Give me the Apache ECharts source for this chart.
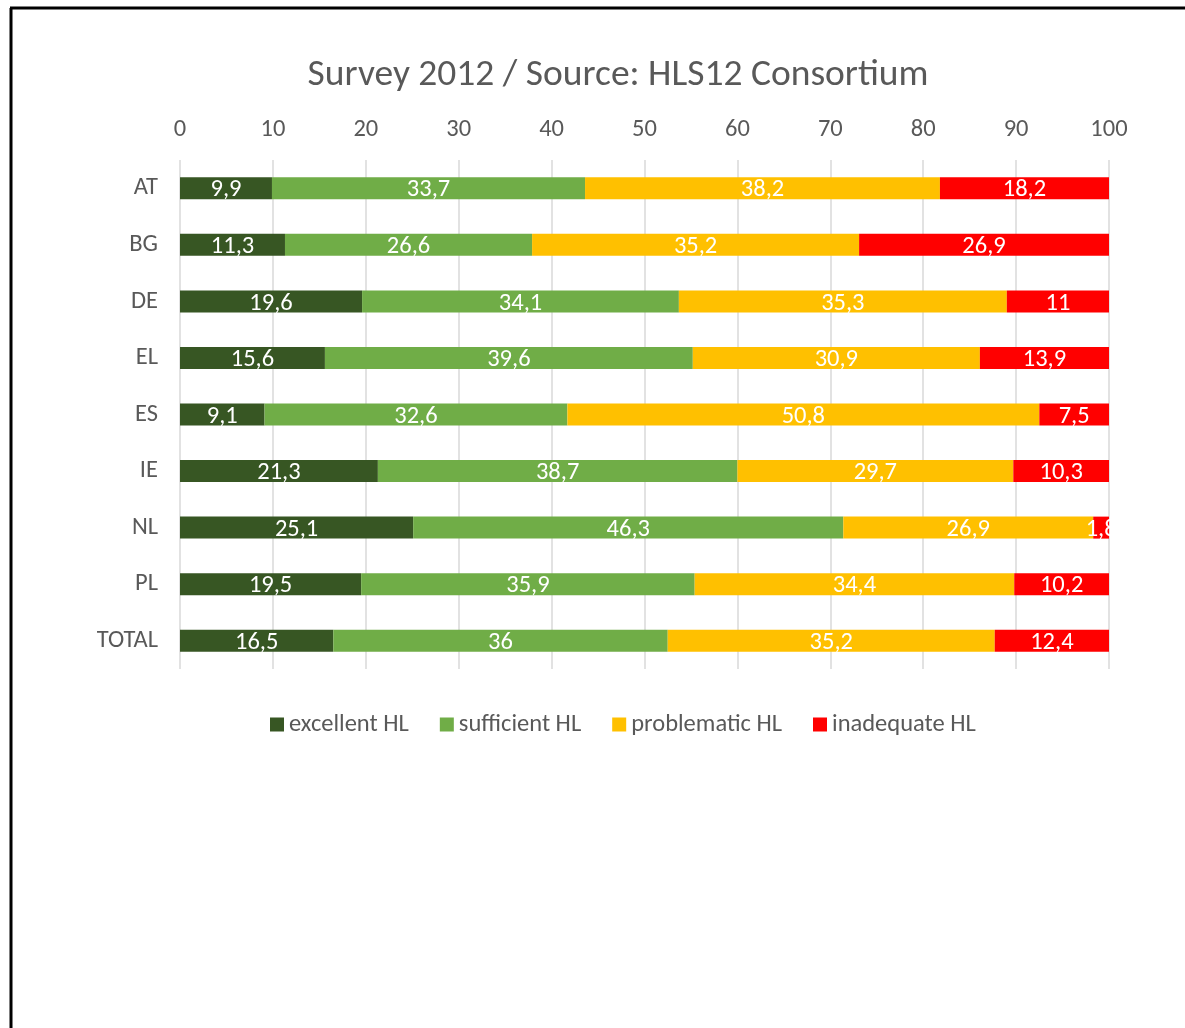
<!DOCTYPE html>
<html>
<head>
<meta charset="utf-8">
<script src="https://cdn.jsdelivr.net/npm/echarts@6/dist/echarts.min.js"></script>
<style>
html,body{margin:0;padding:0;background:#fff;}
#c{width:1185px;height:1028px;}
</style>
</head>
<body>
<div id="c"></div>
<script>
const categories = ['AT','BG','DE','EL','ES','IE','NL','PL','TOTAL'];
const seriesNames = ['excellent HL','sufficient HL','problematic HL','inadequate HL'];
const excellent   = [9.9, 11.3, 19.6, 15.6, 9.1, 21.3, 25.1, 19.5, 16.5];
const sufficient  = [33.7, 26.6, 34.1, 39.6, 32.6, 38.7, 46.3, 35.9, 36];
const problematic = [38.2, 35.2, 35.3, 30.9, 50.8, 29.7, 26.9, 34.4, 35.2];
const inadequate  = [18.2, 26.9, 11, 13.9, 7.5, 10.3, 1.8, 10.2, 12.4];
const xTicks = [0,10,20,30,40,50,60,70,80,90,100];

const colors = ['#375623','#70AD47','#FFC000','#FF0000'];
const values = [excellent, sufficient, problematic, inadequate];
const FONT = 'Carlito, Lato, "Open Sans", sans-serif';
const FS = 24.5;

const chart = echarts.init(document.getElementById('c'));
chart.setOption({
  animation: false,
  textStyle: { fontFamily: FONT },
  title: {
    text: 'Survey 2012 / Source: HLS12 Consortium',
    left: 613, top: 52, textAlign: 'center',
    textStyle: { color: '#595959', fontSize: 37.5, fontWeight: 'normal', fontFamily: FONT }
  },
  legend: {
    data: seriesNames,
    left: 265, top: 707, width: 900,
    itemWidth: 14, itemHeight: 14, itemGap: 31,
    icon: 'rect',
    textStyle: { color: '#595959', fontSize: FS, fontFamily: FONT, padding: [3,0,0,0] }
  },
  grid: { left: 180, right: 76, top: 160, bottom: 359, containLabel: false },
  xAxis: {
    type: 'value', position: 'top', min: 0, max: 100, interval: 10,
    axisLine: { show: false }, axisTick: { show: false },
    splitLine: { show: true, lineStyle: { color: '#d9d9d9', width: 1.5 } },
    axisLabel: { color: '#595959', fontSize: FS, fontFamily: FONT, margin: 18,
      formatter: v => xTicks.includes(v) ? String(v) : '' }
  },
  yAxis: {
    type: 'category', data: categories, inverse: true,
    axisLine: { show: false }, axisTick: { show: false },
    axisLabel: { color: '#595959', fontSize: FS, fontFamily: FONT, margin: 22, padding: [7,0,0,0] }
  },
  graphic: [
    { type: 'line', shape: { x1: 11, y1: 8, x2: 11, y2: 1028 }, style: { stroke: '#000', lineWidth: 3 } },
    { type: 'line', shape: { x1: 10, y1: 8, x2: 1185, y2: 8 }, style: { stroke: '#000', lineWidth: 3 } }
  ],
  series: seriesNames.map((name, i) => ({
    name, type: 'bar', stack: 'total', data: values[i],
    barWidth: 22, clip: true,
    itemStyle: { color: colors[i] },
    label: {
      show: true, position: 'inside', color: '#fff', fontSize: FS, fontFamily: FONT,
      offset: [0, 2],
      formatter: p => String(p.value).replace('.', ',')
    }
  }))
});
</script>
</body>
</html>
